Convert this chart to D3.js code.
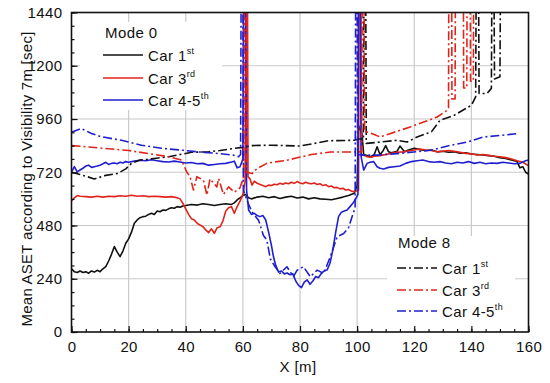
<!DOCTYPE html>
<html>
<head>
<meta charset="utf-8">
<script src="https://cdn.jsdelivr.net/npm/d3@7"></script>
<style>
body { margin: 0; background: #fff; }
svg { font-family: "Liberation Sans", Arial, sans-serif; }
</style>
</head>
<body>
<svg id="chart" width="550" height="383"></svg>
<script>
// axis ticks
const xTicks = [0, 20, 40, 60, 80, 100, 120, 140, 160];
const yTicks = [0, 240, 480, 720, 960, 1200, 1440];

// Mode 0 (solid lines)
const mode0Car1 = [[0,285],[1,272],[2,268],[3,275],[4,268],[5,272],[6,265],[7,275],[8,270],[9,278],[10,272],[11,285],[12,295],[13,320],[14,350],[15,385],[16,360],[17,340],[18,365],[19,400],[20,420],[21,450],[22,490],[23,505],[24,515],[25,520],[26,522],[27,530],[28,535],[29,530],[30,545],[31,542],[32,550],[33,548],[34,555],[35,560],[36,558],[37,565],[38,562],[39,568],[40,570],[42,575],[44,572],[46,578],[48,575],[50,570],[52,575],[54,578],[56,575],[57,582],[58,595],[59,605],[60,615],[61,620],[62,605],[63,600],[65,608],[67,612],[69,605],[71,610],[73,602],[75,608],[77,612],[79,604],[81,608],[83,600],[85,605],[87,600],[89,598],[91,596],[93,602],[95,608],[97,615],[99,625],[100,660],[100.5,930],[101.7,894],[102.3,800],[103.5,795],[104.6,789],[106,800],[107,835],[108,800],[109,815],[110,840],[111,812],[112,808],[114,815],[115,838],[116.6,812],[118,820],[120,828],[122,822],[124,818],[126,820],[128,812],[130,815],[132,810],[134,812],[136,806],[138,808],[140,802],[142,800],[144,798],[146,795],[148,792],[150,785],[152,782],[154,775],[156,768],[157,740],[158,745],[159,720],[160,712]];
const mode0Car3 = [[0,590],[1,605],[2,615],[3,612],[5,610],[7,608],[9,612],[11,608],[13,612],[15,610],[17,614],[19,612],[21,616],[23,612],[25,614],[27,610],[29,612],[31,610],[33,608],[35,610],[37,605],[38,600],[39,580],[40,555],[41,530],[42,510],[43,505],[44,490],[45,482],[46,475],[47,460],[48,448],[49,465],[50,445],[51,470],[52,474],[53,500],[54,545],[55,560],[56,565],[57,535],[58,565],[59,590],[60,620],[60.8,680],[61,1600],[61.6,1600],[61.8,700],[62.5,690],[63.2,662],[64,680],[65,670],[66,665],[67,660],[68,655],[69,662],[70,660],[71,666],[72,664],[73,670],[74,666],[75,672],[76,668],[77,675],[78,670],[79,678],[80,672],[81,668],[82,675],[83,670],[84,668],[85,672],[86,665],[87,668],[88,660],[89,664],[90,655],[91,658],[92,650],[93,652],[94,645],[95,648],[96,640],[97,642],[98,635],[99,632],[100.5,640],[100.7,1600],[101.3,1600],[101.5,800],[102.5,795],[103.5,790],[105,788],[106,792],[108,795],[110,800],[112,805],[114,810],[116,812],[118,816],[120,820],[122,825],[124,820],[126,818],[128,812],[130,815],[132,818],[134,815],[136,810],[138,805],[140,803],[142,798],[144,800],[146,796],[148,792],[150,790],[152,786],[154,780],[156,772],[158,765],[160,750]];
const mode0Car45 = [[0,720],[1,745],[2,722],[3,730],[4,738],[5,748],[6,752],[7,742],[8,745],[9,748],[10,752],[11,758],[12,765],[13,755],[14,760],[15,762],[16,758],[17,765],[18,762],[19,768],[20,765],[22,770],[24,774],[26,772],[28,776],[30,772],[32,768],[34,766],[36,770],[38,766],[40,762],[42,764],[44,758],[46,760],[48,752],[50,755],[52,758],[54,760],[56,766],[57,770],[58,740],[59,745],[60,780],[60.3,1600],[61,1600],[61.3,640],[62,550],[63,530],[64,535],[65,525],[66,520],[67,525],[68,505],[69,450],[70,390],[70.7,340],[71.5,300],[72.5,270],[73.5,275],[74.5,262],[75.5,266],[76.5,258],[77.5,262],[78.5,230],[79.5,210],[80.5,200],[81.5,225],[82.5,235],[83.5,215],[84.5,230],[85.5,250],[86.5,245],[87.5,265],[88.5,275],[89.5,280],[90.5,310],[91.5,370],[92.5,450],[93.5,520],[94.5,540],[95.5,545],[96.5,550],[97.5,565],[98.5,580],[99.5,600],[100.3,620],[100.5,1600],[101.1,1600],[101.4,790],[102.3,730],[103.5,760],[104.5,765],[105.8,768],[107,745],[108,738],[109.3,735],[111,742],[113,745],[115,748],[117,760],[119,768],[121,772],[123,775],[125,768],[127,765],[129,768],[131,762],[133,758],[135,765],[137,762],[139,768],[141,760],[143,765],[145,758],[147,762],[149,760],[151,765],[153,762],[155,758],[157,760],[159,772],[160,775]];

// Mode 8 (dash-dot lines)
const mode8Car1 = [[0,720],[3,710],[6,698],[8,690],[10,698],[12,706],[16,714],[19,735],[21,760],[24,775],[29,782],[34,790],[38,800],[42,810],[48,812],[52,818],[56,826],[60,832],[63,840],[70,842],[80,838],[90,862],[99,864],[100.5,870],[102.2,870],[102.4,1600],[103,1600],[103.2,850],[108,856],[114,864],[117.5,856],[121,879],[126,902],[129,954],[134,977],[140,1022],[141.5,1060],[141.7,1600],[142.5,1600],[142.7,1075],[145.5,1075],[147,1098],[147.2,1600],[147.9,1600],[148.1,1140],[150,1150],[150.2,1600],[150.8,1600]];
const mode8Car3 = [[0,840],[6,834],[13,826],[20,818],[27,804],[34,790],[38.5,775],[40.4,720],[41.5,700],[42.7,640],[43.9,700],[46.2,684],[47.4,617],[48.5,690],[50.9,654],[51.5,692],[53.2,620],[55,654],[57,630],[59,650],[60.3,700],[60.5,1600],[61.1,1600],[61.3,720],[63.2,714],[64.9,736],[66,744],[68.4,760],[72,768],[75.4,774],[79,785],[84,800],[90.6,811],[97.6,811],[101.6,812],[101.8,1600],[102.4,1600],[102.6,905],[104,900],[106,890],[108,879],[111.5,894],[115,909],[118.6,924],[123.3,946],[128,969],[131.5,999],[132,1010],[132.1,1600],[133.1,1600],[133.2,1050],[134.3,1050],[134.4,1600],[137.2,1600],[137.3,1100],[138.4,1100],[138.5,1600],[139.6,1600],[139.7,1130],[140.7,1130],[140.8,1600]];
const mode8Car45 = [[0,900],[3.4,917],[7,895],[10.4,880],[17.5,864],[24.5,842],[31.5,828],[39,819],[45,811],[52,804],[56.7,797],[58.5,790],[59.2,800],[59.4,1600],[60,1600],[60.2,640],[61.4,594],[63.2,541],[65.5,504],[67.2,435],[68.4,414],[69.6,330],[71.3,294],[73,264],[75.4,294],[77.7,250],[79,279],[81.2,294],[83.6,249],[86,279],[88.3,264],[90.6,339],[93,429],[95.3,444],[97,470],[98.5,530],[99.3,560],[99.5,1600],[100,1600],[100.2,800],[102.3,797],[107,797],[114,804],[119.8,811],[125.7,819],[132.6,841],[138.5,856],[144.3,879],[150.2,886],[156,894]];

const black = '#111', red = '#e2231a', blue = '#1f1fd0';
const dashDot = '9,3,2,3';

const series = [
  { data: mode0Car1, color: black, dash: null },
  { data: mode0Car3, color: red, dash: null },
  { data: mode0Car45, color: blue, dash: null },
  { data: mode8Car1, color: black, dash: dashDot },
  { data: mode8Car3, color: red, dash: dashDot },
  { data: mode8Car45, color: blue, dash: dashDot }
];

const svg = d3.select('#chart');
const x = d3.scaleLinear().domain([0, 160]).range([71.5, 528.5]);
const y = d3.scaleLinear().domain([0, 1440]).range([332, 12.5]);

svg.append('clipPath').attr('id', 'plot-clip')
  .append('rect')
  .attr('x', x(0)).attr('y', y(1440))
  .attr('width', x(160) - x(0)).attr('height', y(0) - y(1440));

// grid
svg.append('g').selectAll('line')
  .data(xTicks.slice(1, -1))
  .enter().append('line')
  .attr('x1', d => x(d)).attr('x2', d => x(d))
  .attr('y1', y(0)).attr('y2', y(1440))
  .attr('stroke', '#cacaca').attr('stroke-width', 1.2);

svg.append('g').selectAll('line')
  .data(yTicks.slice(1, -1))
  .enter().append('line')
  .attr('x1', x(0)).attr('x2', x(160))
  .attr('y1', d => y(d)).attr('y2', d => y(d))
  .attr('stroke', '#cacaca').attr('stroke-width', 1.2);

// legend backgrounds hide the grid
svg.append('rect').attr('x', 80).attr('y', 22).attr('width', 142).attr('height', 88).attr('fill', '#fff');
svg.append('rect').attr('x', 387).attr('y', 236).attr('width', 128).attr('height', 92).attr('fill', '#fff');

// series
const line = d3.line().x(d => x(d[0])).y(d => y(d[1]));
svg.append('g').attr('clip-path', 'url(#plot-clip)')
  .selectAll('path')
  .data(series)
  .enter().append('path')
  .attr('d', d => line(d.data))
  .attr('fill', 'none')
  .attr('stroke', d => d.color)
  .attr('stroke-width', 1.6)
  .attr('stroke-linejoin', 'round')
  .attr('stroke-dasharray', d => d.dash);

// axes (ticks pointing inward)
const axisFont = g => g.selectAll('text')
  .attr('font-size', 15).attr('letter-spacing', '0.4px').attr('fill', '#111')
  .attr('font-family', '"Liberation Sans", Arial, sans-serif');

svg.append('g')
  .attr('transform', `translate(0,${y(0)})`)
  .call(d3.axisBottom(x).tickValues(d3.range(0, 161, 5)).tickSize(-3).tickFormat(''))
  .call(g => g.select('.domain').remove());
svg.append('g')
  .attr('transform', `translate(0,${y(0)})`)
  .call(d3.axisBottom(x).tickValues(xTicks).tickSize(-6).tickPadding(9).tickFormat(d3.format('d')))
  .call(g => g.select('.domain').remove())
  .call(axisFont);

svg.append('g')
  .attr('transform', `translate(${x(0)},0)`)
  .call(d3.axisLeft(y).tickValues(d3.range(0, 1441, 60)).tickSize(-3).tickFormat(''))
  .call(g => g.select('.domain').remove());
svg.append('g')
  .attr('transform', `translate(${x(0)},0)`)
  .call(d3.axisLeft(y).tickValues(yTicks).tickSize(-6).tickPadding(9).tickFormat(d3.format('d')))
  .call(g => g.select('.domain').remove())
  .call(axisFont);

svg.selectAll('.tick line').attr('stroke', '#111').attr('stroke-width', 1.2);

// frame
svg.append('rect')
  .attr('x', x(0)).attr('y', y(1440))
  .attr('width', x(160) - x(0)).attr('height', y(0) - y(1440))
  .attr('fill', 'none').attr('stroke', '#111').attr('stroke-width', 1.6);

// axis titles
svg.append('text')
  .attr('transform', 'translate(32,179) rotate(-90)')
  .attr('text-anchor', 'middle')
  .attr('font-size', 15).attr('letter-spacing', '0.25px').attr('fill', '#111')
  .text('Mean ASET according to Visibility 7m [sec]');

svg.append('text')
  .attr('x', 298).attr('y', 372)
  .attr('text-anchor', 'middle')
  .attr('font-size', 15).attr('letter-spacing', '0.4px').attr('fill', '#111')
  .text('X [m]');

// legends
function drawLegend(title, tx, ty, lineX, rows) {
  const g = svg.append('g');
  g.append('text').attr('x', tx).attr('y', ty)
    .attr('font-size', 15).attr('letter-spacing', '0.4px').attr('fill', '#111')
    .text(title);
  rows.forEach(r => {
    g.append('line')
      .attr('x1', lineX).attr('x2', lineX + 40)
      .attr('y1', r.y).attr('y2', r.y)
      .attr('stroke', r.color).attr('stroke-width', 1.6)
      .attr('stroke-dasharray', r.dash);
    const t = g.append('text').attr('x', lineX + 45).attr('y', r.y + 6)
      .attr('font-size', 15).attr('letter-spacing', '0.4px').attr('fill', '#111');
    t.append('tspan').text(r.label);
    t.append('tspan').attr('font-size', 9).attr('dy', -7).text(r.sup);
  });
}

drawLegend('Mode 0', 105, 38, 103, [
  { y: 55, color: black, dash: null, label: 'Car 1', sup: 'st' },
  { y: 78, color: red, dash: null, label: 'Car 3', sup: 'rd' },
  { y: 100, color: blue, dash: null, label: 'Car 4-5', sup: 'th' }
]);

drawLegend('Mode 8', 398, 248, 397, [
  { y: 268, color: black, dash: dashDot, label: 'Car 1', sup: 'st' },
  { y: 290, color: red, dash: dashDot, label: 'Car 3', sup: 'rd' },
  { y: 311, color: blue, dash: dashDot, label: 'Car 4-5', sup: 'th' }
]);
</script>
</body>
</html>
